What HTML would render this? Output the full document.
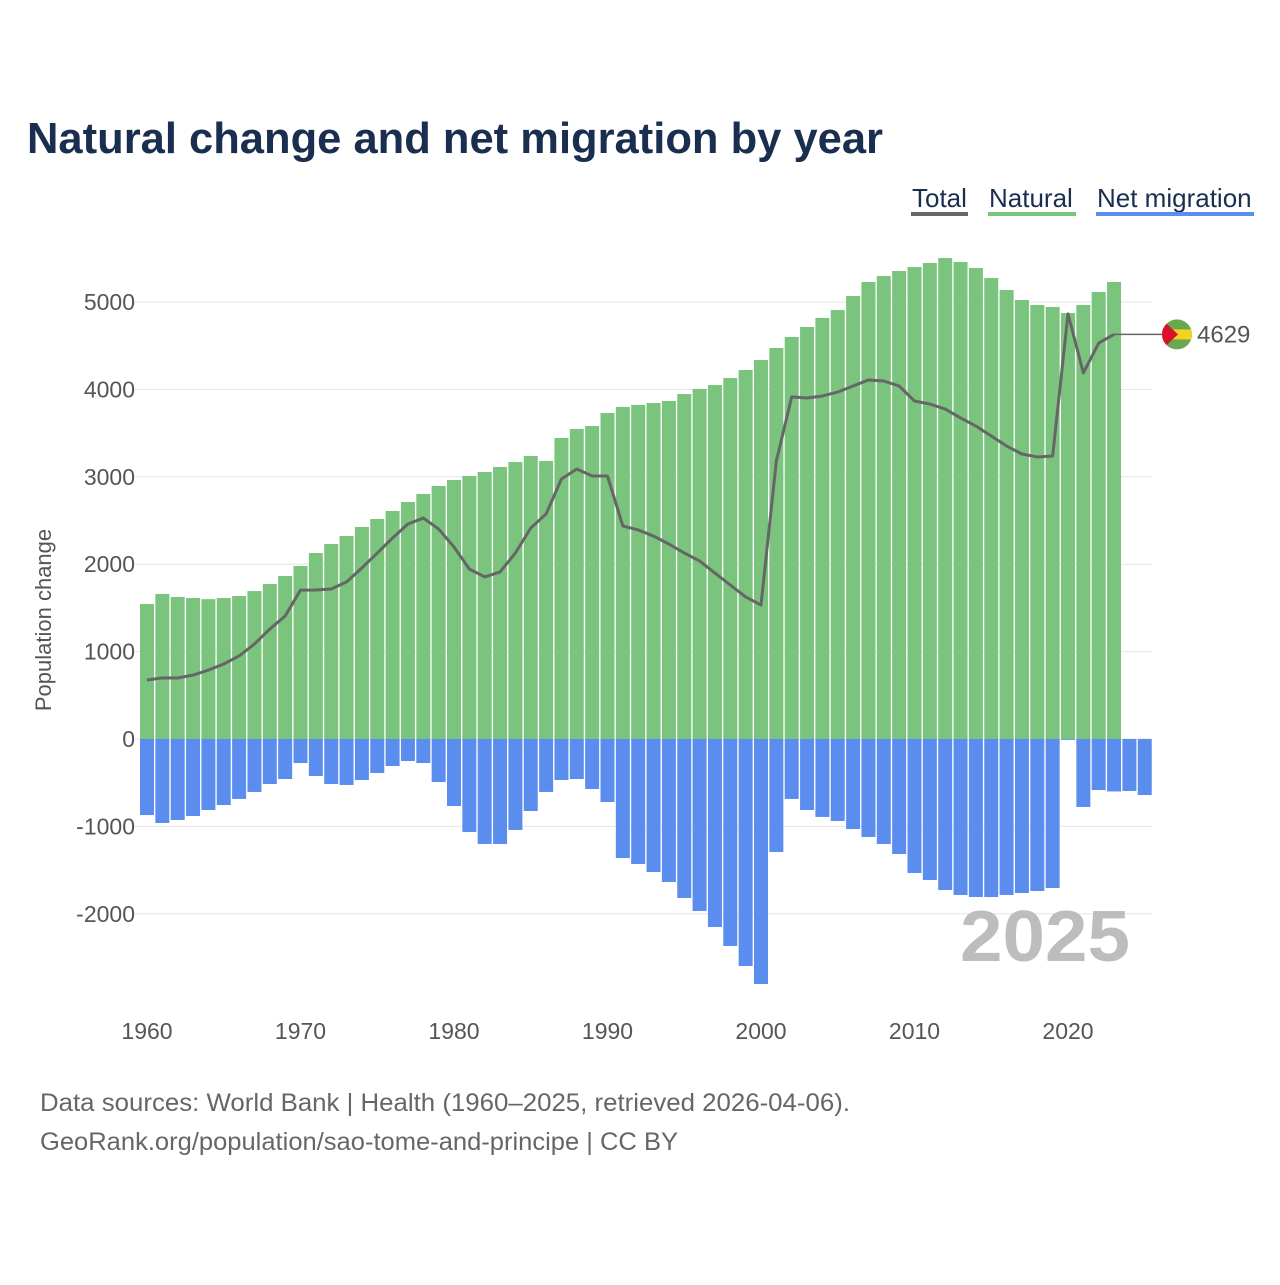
<!DOCTYPE html>
<html><head><meta charset="utf-8"><style>
body{margin:0;background:#fff;font-family:"Liberation Sans",sans-serif}
#c{position:relative;width:1280px;height:1280px}
</style></head><body>
<div id="c">
<svg id="s" width="1280" height="1280" xmlns="http://www.w3.org/2000/svg">
<text x="27" y="153" font-size="44" font-weight="bold" fill="#1a2e50" textLength="856" lengthAdjust="spacingAndGlyphs">Natural change and net migration by year</text>
<g>
<g><text x="912" y="207" font-size="26" fill="#1a2e50">Total</text><rect x="911" y="212" width="57" height="4" fill="#666"/></g>
<g><text x="989" y="207" font-size="26" fill="#1a2e50">Natural</text><rect x="988" y="212" width="88" height="4" fill="#7ac47e"/></g>
<g><text x="1097" y="207" font-size="26" fill="#1a2e50">Net migration</text><rect x="1096" y="212" width="158" height="4" fill="#5b8def"/></g>
</g>
<g id="grid"></g><g id="bars"></g><g id="line"></g><g id="axes"></g>
<text x="1130" y="961" font-size="72" font-weight="bold" fill="#bdbdbd" text-anchor="end" textLength="170" lengthAdjust="spacingAndGlyphs">2025</text>
<text transform="translate(51,620) rotate(-90)" font-size="22" fill="#555" text-anchor="middle">Population change</text>
<text x="40" y="1111" font-size="25" fill="#666" textLength="810" lengthAdjust="spacingAndGlyphs">Data sources: World Bank | Health (1960–2025, retrieved 2026-04-06).</text>
<text x="40" y="1150" font-size="25" fill="#666" textLength="638" lengthAdjust="spacingAndGlyphs">GeoRank.org/population/sao-tome-and-principe | CC BY</text>
</svg></div>
<script>
const years=[];for(let y=1960;y<=2025;y++)years.push(y);
const natural=[1545,1660,1625,1613,1600,1613,1636,1693,1773,1865,1979,2128,2231,2323,2426,2517,2609,2712,2803,2895,2963,3009,3055,3112,3169,3238,3181,3444,3547,3581,3730,3799,3822,3844,3867,3947,4005,4050,4130,4222,4336,4474,4600,4714,4817,4908,5069,5229,5297,5355,5400,5446,5503,5458,5389,5275,5137,5023,4966,4943,4874,4966,5114,5229,0,0];
const migration=[-870,-961,-927,-881,-812,-755,-686,-606,-515,-458,-275,-423,-515,-526,-469,-389,-309,-252,-275,-492,-767,-1064,-1201,-1201,-1041,-824,-606,-469,-458,-572,-721,-1362,-1430,-1522,-1636,-1819,-1968,-2151,-2368,-2597,-2803,-1293,-686,-812,-892,-938,-1030,-1121,-1201,-1316,-1533,-1613,-1728,-1785,-1808,-1808,-1785,-1762,-1739,-1705,-10,-778,-584,-600,-595,-641];
const totalEnd=2023, lastTotal=4629;
const yTicks=[-2000,-1000,0,1000,2000,3000,4000,5000];
const xTicks=[1960,1970,1980,1990,2000,2010,2020];
const NS='http://www.w3.org/2000/svg';
const X=y=>147+(y-1960)*15.35;
const Y=v=>739-v*0.0874;
function mk(t,a,p){const e=document.createElementNS(NS,t);for(const k in a)e.setAttribute(k,a[k]);p.appendChild(e);return e;}
const G=document.getElementById('grid'),B=document.getElementById('bars'),L=document.getElementById('line'),A=document.getElementById('axes');
yTicks.forEach(v=>{
 const l=mk('line',{x1:135,x2:1152,y1:Y(v),y2:Y(v),stroke:'#e6e6e6','stroke-width':1},G);
 
 
 const t=mk('text',{x:135,y:Y(v)+8,'font-size':23,fill:'#555','text-anchor':'end'},A);t.textContent=v;
 
 
});
xTicks.forEach(v=>{
 const t=mk('text',{x:X(v),y:1039,'font-size':23,fill:'#555','text-anchor':'middle'},A);t.textContent=v;
 
 
});
years.forEach((yr,i)=>{
 if(natural[i]>0){const r=mk('rect',{x:X(yr)-7,y:Y(natural[i]),width:14,height:Y(0)-Y(natural[i]),fill:'#7ac47e'},B);
 
 }
 const r2=mk('rect',{x:X(yr)-7,y:Y(0),width:14,height:Y(migration[i])-Y(0),fill:'#5b8def'},B);
 
 
});
let pts=[];years.forEach((yr,i)=>{if(yr<=totalEnd){const v=yr===totalEnd?lastTotal:natural[i]+migration[i];pts.push(X(yr)+','+Y(v));}});
const pl=mk('polyline',{points:pts.join(' '),fill:'none',stroke:'#666','stroke-width':3,'stroke-linejoin':'round'},L);


const ly=Y(lastTotal);
const cl=mk('line',{x1:X(totalEnd),x2:1163,y1:ly,y2:ly,stroke:'#666','stroke-width':1.5},L);


const fg=mk('g',{},L);


mk('clipPath',{id:'fc'},fg).appendChild(document.createElementNS(NS,'circle')).setAttribute('r','15');
const fc=document.querySelector('#fc circle');fc.setAttribute('cx',1177);fc.setAttribute('cy',ly);
const fi=mk('g',{'clip-path':'url(#fc)'},fg);
mk('rect',{x:1162,y:ly-15,width:30,height:30,fill:'#6aa84f'},fi);
mk('rect',{x:1162,y:ly-5,width:30,height:10,fill:'#f5d323'},fi);
mk('polygon',{points:`1162,${ly-15} 1178,${ly} 1162,${ly+15}`,fill:'#d9112a'},fi);
const lt=mk('text',{x:1197,y:ly+8,'font-size':24,fill:'#555'},L);lt.textContent=lastTotal;


</script>
</body></html>
